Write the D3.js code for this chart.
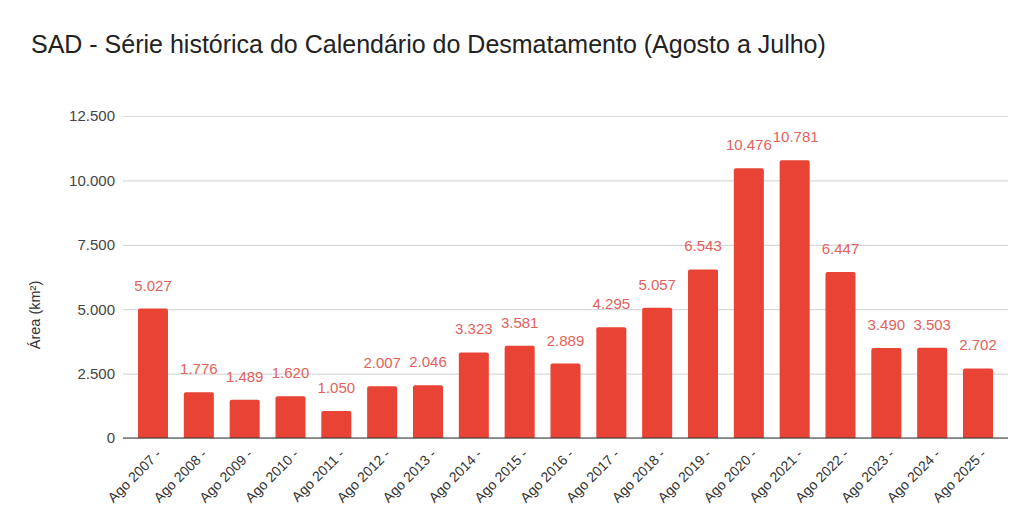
<!DOCTYPE html>
<html>
<head>
<meta charset="utf-8">
<script src="https://cdn.jsdelivr.net/npm/d3@7"></script>
<style>
  body { margin: 0; background: #fff; }
  svg { font-family: "Liberation Sans", Arial, sans-serif; }
</style>
</head>
<body>
<svg id="chart" width="1032" height="532"></svg>
<script>
const title = "SAD - Série histórica do Calendário do Desmatamento (Agosto a Julho)";
const yLabel = "Área (km²)";
const years = ["2007", "2008", "2009", "2010", "2011", "2012", "2013", "2014", "2015", "2016",
  "2017", "2018", "2019", "2020", "2021", "2022", "2023", "2024", "2025"];
const categories = years.map(y => `Ago ${y} -`);
const areas = [5027, 1776, 1489, 1620, 1050, 2007, 2046, 3323, 3581, 2889,
  4295, 5057, 6543, 10476, 10781, 6447, 3490, 3503, 2702];
const yTicks = [0, 2500, 5000, 7500, 10000, 12500];

const barColor = "#e84335";
const labelColor = "#e3625a";

const fmt = d3.formatLocale({ decimal: ",", thousands: ".", grouping: [3], currency: ["", ""] }).format(",d");

const margin = { top: 116, right: 24, bottom: 94, left: 123 };
const W = 1032, H = 532;
const width = W - margin.left - margin.right;
const height = H - margin.top - margin.bottom;

const svg = d3.select("#chart");

svg.append("text")
  .attr("x", 31).attr("y", 53)
  .attr("font-size", 25)
  .attr("fill", "#222")
  .text(title);

const g = svg.append("g").attr("transform", `translate(${margin.left},${margin.top})`);

const x = d3.scaleBand()
  .domain(categories)
  .range([0, width])
  .paddingInner(0.345)
  .paddingOuter(0.327);

const y = d3.scaleLinear().domain([0, 12500]).range([height, 0]);

// gridlines + tick labels
const yAxis = g.append("g")
  .call(d3.axisLeft(y).tickValues(yTicks).tickSize(-width).tickFormat(fmt).tickPadding(8));
yAxis.select(".domain").remove();
yAxis.selectAll(".tick line").attr("stroke", "#d9d9d9").attr("stroke-width", 1.2);
yAxis.selectAll(".tick text").attr("font-size", 15).attr("fill", "#444");

g.append("text")
  .attr("transform", `translate(-83,${height / 2 + 38}) rotate(-90)`)
  .attr("text-anchor", "middle")
  .attr("font-size", 14.5)
  .attr("fill", "#333")
  .text(yLabel);

// bars with slightly rounded tops
g.selectAll(".bar")
  .data(areas)
  .join("path")
  .attr("class", "bar")
  .attr("fill", barColor)
  .attr("d", (d, i) => {
    const x0 = x(categories[i]), w = x.bandwidth();
    const y0 = y(d), y1 = y(0), r = 2;
    return `M${x0},${y1}V${y0 + r}Q${x0},${y0} ${x0 + r},${y0}H${x0 + w - r}Q${x0 + w},${y0} ${x0 + w},${y0 + r}V${y1}Z`;
  });

// value labels, nudged right when they would collide with the previous one
const vals = g.selectAll(".val")
  .data(areas)
  .join("text")
  .attr("class", "val")
  .attr("x", (d, i) => x(categories[i]) + x.bandwidth() / 2)
  .attr("y", d => y(d) - 18)
  .attr("text-anchor", "middle")
  .attr("font-size", 15)
  .attr("fill", labelColor)
  .text(d => fmt(d));

let prev = null;
vals.each(function () {
  const b = this.getBBox();
  if (prev && b.x < prev.x + prev.width && Math.abs(b.y - prev.y) < b.height) {
    const shift = prev.x + prev.width - b.x + 1;
    d3.select(this).attr("x", +d3.select(this).attr("x") + shift);
  }
  prev = this.getBBox();
});

// baseline
g.append("line")
  .attr("x1", 0).attr("x2", width)
  .attr("y1", y(0)).attr("y2", y(0))
  .attr("stroke", "#333").attr("stroke-width", 1.2);

// x axis labels
const xAxis = g.append("g")
  .attr("transform", `translate(0,${height})`)
  .call(d3.axisBottom(x).tickSize(0).tickPadding(0));
xAxis.select(".domain").remove();
xAxis.selectAll(".tick text")
  .attr("font-size", 14)
  .attr("fill", "#333")
  .attr("text-anchor", "end")
  .attr("dy", 0)
  .attr("transform", "translate(9,17) rotate(-45)");
</script>
</body>
</html>
